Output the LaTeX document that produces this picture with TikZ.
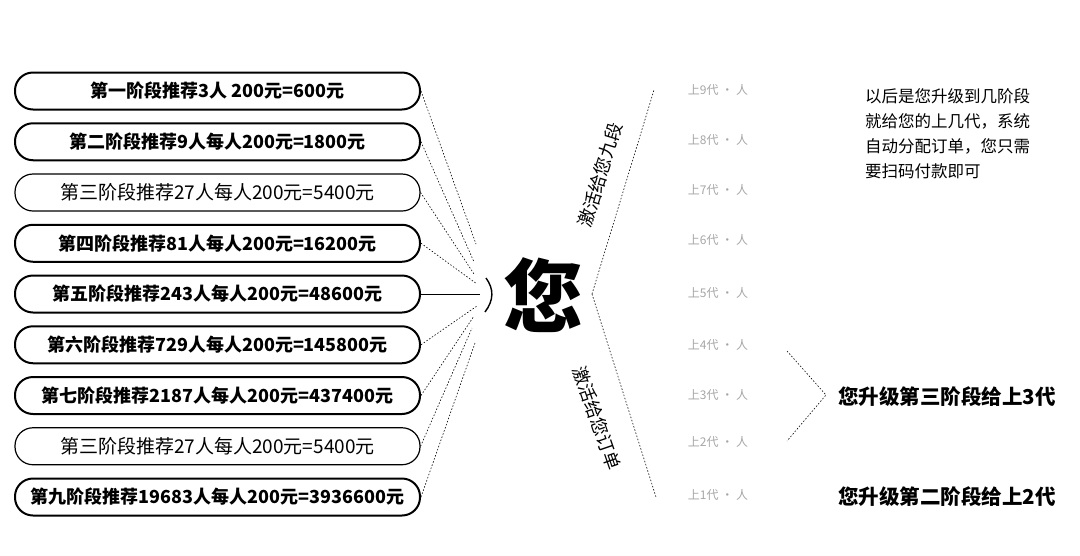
\documentclass[tikz,border=0pt]{standalone}
\usepackage{fontspec}
\setmainfont{Noto Sans CJK SC}
\begin{document}
\begin{tikzpicture}[x=1pt,y=-1pt,
  box/.style={draw, line width=2pt, rounded corners=18pt, minimum width=405pt, minimum height=37pt, inner sep=0pt, font=\fontsize{18}{20}\selectfont\bfseries},
  boxlight/.style={box, line width=1.2pt, font=\fontsize{19}{20}\selectfont},
  feed/.style={line width=0.6pt, dash pattern=on 1.5pt off 1.8pt},
  faint/.style={text=black!35, font=\fontsize{12}{13}\selectfont, inner sep=0pt},
  rot/.style={font=\fontsize{18}{19}\selectfont, inner sep=0pt},
  bigtxt/.style={font=\fontsize{20.5}{22}\selectfont\bfseries, anchor=west, inner sep=0pt}]
\useasboundingbox (0,0) rectangle (1080,555);
% left boxes
\node[box]      (r1) at (217.5,91)    {第一阶段推荐3人 200元=600元};
\node[box]      (r2) at (217.5,141.75){第二阶段推荐9人每人200元=1800元};
\node[boxlight] (r3) at (217.5,192.5) {第三阶段推荐27人每人200元=5400元};
\node[box]      (r4) at (217.5,243.25){第四阶段推荐81人每人200元=16200元};
\node[box]      (r5) at (217.5,294)   {第五阶段推荐243人每人200元=48600元};
\node[box]      (r6) at (217.5,344.75){第六阶段推荐729人每人200元=145800元};
\node[box]      (r7) at (217.5,395.5) {第七阶段推荐2187人每人200元=437400元};
\node[boxlight] (r8) at (217.5,446.25){第三阶段推荐27人每人200元=5400元};
\node[box]      (r9) at (217.5,497)   {第九阶段推荐19683人每人200元=3936600元};
% center
\node[font=\fontsize{80}{80}\selectfont\bfseries, inner sep=0pt] (you) at (543,295) {您};
% converging ends
\coordinate (e1) at (476,244);
\coordinate (e2) at (474,262);
\coordinate (e3) at (474,274);
\coordinate (e4) at (477,284);
\coordinate (e5) at (480,294);
\coordinate (e6) at (477,306);
\coordinate (e7) at (474,316);
\coordinate (e8) at (472,328);
\coordinate (e9) at (475,343);
\foreach \i in {1,2,3,4,6,7,8,9} { \draw[feed] (r\i.east) -- (e\i); }
\draw[line width=1pt] (r5.east) -- (e5);
% bracket
\coordinate (k1) at (486,278);
\coordinate (k2) at (485,312);
\draw[line width=1.4pt] (k1) .. controls (494,289) and (494,300) .. (k2);
% right fan
\coordinate (t) at (592,294);
\coordinate (u1) at (654,90);
\coordinate (u2) at (656,497);
\draw[feed] (t) -- (u1);
\draw[feed] (t) -- (u2);
\node[rot, rotate=73] (a1) at (600,175) {激活给您九段};
\node[rot, rotate=-71] (a2) at (597,418) {激活给您订单};
% faint column
\node[faint] (c1) at (718,90)  {上9代 · 人};
\node[faint] (c2) at (718,140) {上8代 · 人};
\node[faint] (c3) at (718,190) {上7代 · 人};
\node[faint] (c4) at (718,240) {上6代 · 人};
\node[faint] (c5) at (718,293) {上5代 · 人};
\node[faint] (c6) at (718,345) {上4代 · 人};
\node[faint] (c7) at (718,395) {上3代 · 人};
\node[faint] (c8) at (718,442) {上2代 · 人};
\node[faint] (c9) at (718,495) {上1代 · 人};
% note
\node[anchor=north west, align=left, inner sep=0pt, font=\fontsize{16.5}{25}\selectfont] (note) at (865,88)
  {以后是您升级到几阶段\\就给您的上几代，系统\\自动分配订单，您只需\\要扫码付款即可};
% right bracket
\coordinate (b1) at (787,351);
\coordinate (b2) at (826,395);
\coordinate (b3) at (787,441);
\draw[feed] (b1) -- (b2) -- (b3);
\node[bigtxt] (s3) at (838,397) {您升级第三阶段给上3代};
\node[bigtxt] (s2) at (838,497) {您升级第二阶段给上2代};
\end{tikzpicture}
\end{document}
